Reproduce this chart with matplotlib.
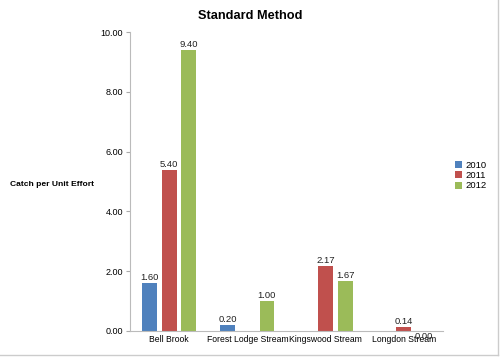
import numpy as np
import matplotlib.pyplot as plt
from matplotlib.lines import Line2D

plt.rcParams['font.family'] = ['Liberation Sans', 'DejaVu Sans']

# dados do gráfico
locais = ['Bell Brook', 'Forest Lodge Stream', 'Kingswood Stream', 'Longdon Stream']
anos = ['2010', '2011', '2012']
v2010 = [1.60, 0.20, None, None]
v2011 = [5.40, None, 2.17, 0.14]
v2012 = [9.40, 1.00, 1.67, 0.00]
cores = ['#4F81BD', '#C0504D', '#9BBB59']

fig = plt.figure(figsize=(5, 3.57), dpi=100)
ax = fig.add_axes([0.26, 0.073, 0.626, 0.837])

x = np.arange(len(locais)) + 0.5
largura = 0.19
for i, (serie, cor, ano) in enumerate(zip([v2010, v2011, v2012], cores, anos)):
    xs = [xi + (i - 1) * 0.25 for xi, v in zip(x, serie) if v is not None]
    ys = [v for v in serie if v is not None]
    ax.bar(xs, ys, largura, color=cor, label=ano)
    for xb, yb in zip(xs, ys):
        # rótulo zero fica abaixo do eixo, como no original
        if yb > 0:
            ax.text(xb, yb + 0.03, f'{yb:.2f}', ha='center', va='bottom', fontsize=6.8, color='#222222')
        else:
            ax.text(xb, yb - 0.05, f'{yb:.2f}', ha='center', va='top', fontsize=6.8, color='#222222')

ax.set_xlim(0, 4)
ax.set_ylim(0, 10)
ax.set_yticks(np.arange(0, 11, 2))
ax.set_yticklabels([f'{t:.2f}' for t in np.arange(0, 11, 2)], fontsize=6.5)
ax.set_xticks(x)
ax.set_xticklabels(locais, fontsize=6.2)
ax.tick_params(axis='x', length=0, pad=3)
ax.tick_params(axis='y', length=3, color='#aaaaaa', pad=2)
for lado in ['top', 'right']:
    ax.spines[lado].set_visible(False)
for lado in ['left', 'bottom']:
    ax.spines[lado].set_color('#bbbbbb')

fig.suptitle('Standard Method', x=0.5, y=0.972, fontsize=9.2, fontweight='bold')
fig.text(0.02, 0.482, 'Catch per Unit Effort', fontsize=6.1, fontweight='bold', va='center')

ax.legend(loc='center left', bbox_to_anchor=(1.01, 0.52), frameon=False, fontsize=6.8,
          handlelength=0.8, handleheight=0.8, handletextpad=0.4, labelspacing=0.15)

# borda da figura (direita e embaixo)
fig.add_artist(Line2D([0.996, 0.996], [0.005, 1], transform=fig.transFigure, color='#cccccc', lw=1))
fig.add_artist(Line2D([0, 0.996], [0.005, 0.005], transform=fig.transFigure, color='#cccccc', lw=1))

fig.savefig('out.png', dpi=100)
